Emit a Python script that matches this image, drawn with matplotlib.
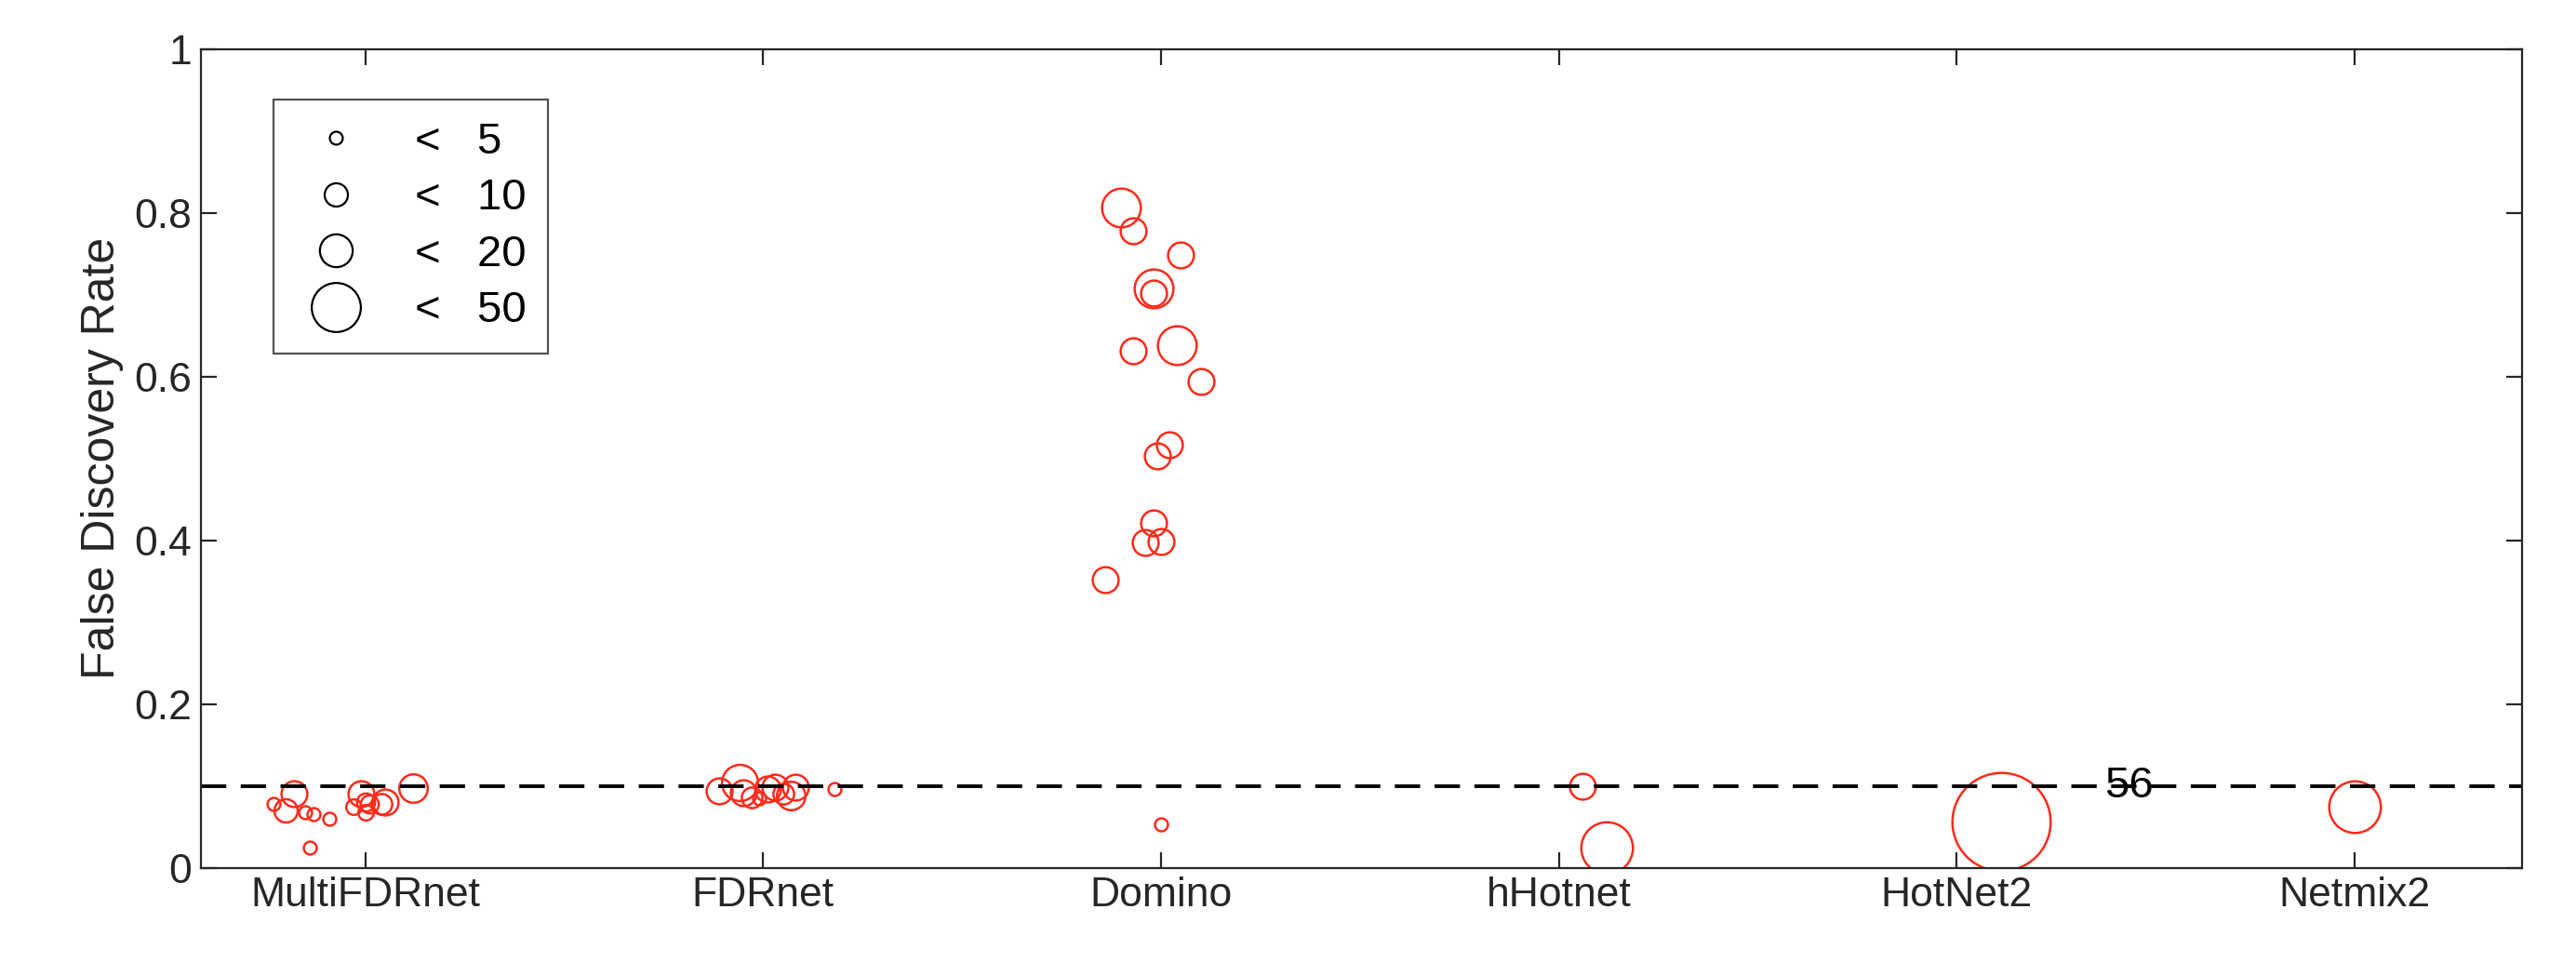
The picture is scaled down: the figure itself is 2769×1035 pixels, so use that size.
import matplotlib
matplotlib.use('Agg')
import matplotlib.pyplot as plt
from matplotlib.lines import Line2D
from matplotlib.ticker import FuncFormatter

plt.rcParams['font.family'] = ['Liberation Sans', 'DejaVu Sans']

methods = ["MultiFDRnet", "FDRnet", "Domino", "hHotnet", "HotNet2", "Netmix2"]

# x position (category index, jittered), FDR, marker diameter (pt)
multi_x = [0.77, 0.80, 0.82, 0.85, 0.87, 0.86, 0.91, 0.97, 0.99, 1.00, 1.00, 1.01, 1.04, 1.05, 1.12]
multi_y = [0.078, 0.070, 0.090, 0.068, 0.065, 0.025, 0.060, 0.075, 0.090, 0.080, 0.068, 0.078, 0.078, 0.080, 0.097]
multi_s = [5, 9, 10, 5, 5, 5, 5, 6, 10, 7, 6, 7, 8, 10, 11]

fdr_x = [1.89, 1.94, 1.95, 1.97, 1.99, 2.01, 2.03, 2.05, 2.07, 2.08, 2.18]
fdr_y = [0.094, 0.104, 0.092, 0.086, 0.085, 0.096, 0.098, 0.090, 0.088, 0.098, 0.096]
fdr_s = [10, 14, 10, 8, 5, 10, 10, 8, 11, 10, 5]

dom_x = [2.90, 2.93, 3.05, 2.98, 2.98, 2.93, 3.04, 3.10, 3.02, 2.99, 2.98, 2.96, 3.00, 2.86, 3.00]
dom_y = [0.807, 0.778, 0.748, 0.708, 0.702, 0.632, 0.638, 0.594, 0.517, 0.503, 0.421, 0.397, 0.399, 0.352, 0.053]
dom_s = [15, 10, 10, 15, 10, 10, 15, 10, 10, 10, 10, 10, 10, 10, 5]

hhot_x = [4.06, 4.12]
hhot_y = [0.099, 0.025]
hhot_s = [10, 20]

hn2_x = [5.11]
hn2_y = [0.056]
hn2_s = [38]

nm2_x = [6.00]
nm2_y = [0.075]
nm2_s = [20]

legend_counts = [5, 10, 20, 50]
legend_sizes = [5, 9, 12.7, 19]

fig = plt.figure(figsize=(13.845, 5.175), dpi=200)
ax = fig.add_axes([0.078, 0.099, 0.901, 0.85])

for xs, ys, ss in [(multi_x, multi_y, multi_s), (fdr_x, fdr_y, fdr_s),
                   (dom_x, dom_y, dom_s), (hhot_x, hhot_y, hhot_s),
                   (hn2_x, hn2_y, hn2_s), (nm2_x, nm2_y, nm2_s)]:
    for x, y, s in zip(xs, ys, ss):
        ax.plot(x, y, 'o', ms=s, mfc='none', mec='#ff2a1a', mew=0.9)

ax.axhline(0.1, color='black', ls=(0, (7, 4)), lw=1.4)
ax.text(5.37, 0.1, "56", fontsize=17, va='center', ha='left')

ax.set_xlim(0.587, 6.42)
ax.set_ylim(0, 1)
ax.set_xticks(range(1, 7))
ax.set_xticklabels(methods)
ax.set_yticks([0, 0.2, 0.4, 0.6, 0.8, 1])
ax.yaxis.set_major_formatter(FuncFormatter(lambda v, p: '%g' % v))
ax.tick_params(direction='in', length=6, width=0.8, labelsize=16, colors='#262626',
               top=True, right=True)
for sp in ax.spines.values():
    sp.set_color('#262626')
    sp.set_linewidth(0.8)
ax.set_ylabel("False Discovery Rate", fontsize=18, color='#262626')

handles = [Line2D([], [], ls='none', marker='o', ms=s, mfc='none', mec='black', mew=0.8)
           for s in legend_sizes]
labels = ["<   %d" % c for c in legend_counts]
leg = ax.legend(handles, labels, loc='upper left', bbox_to_anchor=(0.022, 0.965),
                fontsize=17, frameon=True, fancybox=False, edgecolor='#262626',
                labelspacing=0.35, handletextpad=0.9, borderpad=0.5, handlelength=1.8)
leg.get_frame().set_linewidth(0.8)

fig.savefig("out.png", dpi=200)
